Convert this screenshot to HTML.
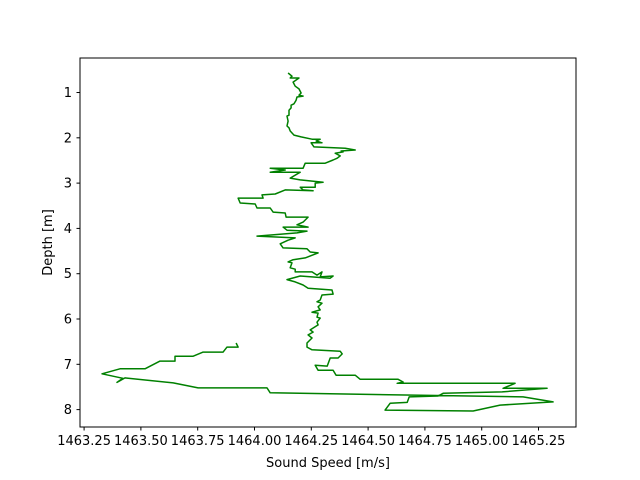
<!DOCTYPE html>
<html><head><meta charset="utf-8"><style>
html,body{margin:0;padding:0;background:#fff}
svg{display:block;font-family:"DejaVu Sans","Liberation Sans",sans-serif}
</style></head><body>
<svg id="chart" width="640" height="480" viewBox="0 0 640 480">
<rect x="0" y="0" width="640" height="480" fill="#fff"/>
<rect x="80" y="58" width="496" height="369" fill="#fff"/>
<g id="marks"></g>
<rect x="80" y="58" width="496" height="369" fill="none" stroke="#000" stroke-width="1"/>
<g id="xticks"></g><g id="yticks"></g>
<text x="328" y="467" text-anchor="middle" font-size="13">Sound Speed [m/s]</text>
<text x="0" y="0" transform="translate(52,242.5) rotate(-90)" text-anchor="middle" font-size="13">Depth [m]</text>
</svg>
<script>
const speed=[1464.148,1464.165,1464.157,1464.196,1464.170,1464.179,1464.196,1464.205,1464.196,1464.214,1464.187,1464.183,1464.174,1464.161,1464.161,1464.152,1464.152,1464.143,1464.148,1464.143,1464.152,1464.157,1464.174,1464.205,1464.253,1464.289,1464.271,1464.297,1464.249,1464.262,1464.399,1464.443,1464.381,1464.390,1464.355,1464.377,1464.364,1464.346,1464.311,1464.223,1464.214,1464.069,1464.135,1464.069,1464.201,1464.157,1464.201,1464.302,1464.267,1464.267,1464.201,1464.214,1464.258,1464.135,1464.091,1464.033,1464.038,1463.928,1463.937,1464.003,1464.011,1464.069,1464.082,1464.135,1464.139,1464.236,1464.214,1464.187,1464.236,1464.126,1464.143,1464.231,1464.187,1464.011,1464.179,1464.148,1464.113,1464.126,1464.231,1464.245,1464.280,1464.223,1464.170,1464.148,1464.165,1464.157,1464.179,1464.179,1464.253,1464.275,1464.297,1464.289,1464.346,1464.333,1464.201,1464.143,1464.179,1464.214,1464.236,1464.341,1464.346,1464.297,1464.289,1464.275,1464.297,1464.280,1464.289,1464.253,1464.280,1464.275,1464.289,1464.275,1464.280,1464.245,1464.258,1464.236,1464.253,1464.231,1464.231,1464.253,1464.377,1464.386,1464.368,1464.333,1464.320,1464.267,1464.280,1464.346,1464.359,1464.443,1464.465,1464.632,1464.654,1464.628,1465.147,1465.094,1465.288,1465.090,1464.830,1464.808,1464.681,1464.672,1464.597,1464.575,1464.962,1465.081,1465.314,1465.182,1464.069,1464.055,1463.752,1463.642,1463.430,1463.395,1463.421,1463.329,1463.408,1463.518,1463.549,1463.584,1463.650,1463.650,1463.730,1463.774,1463.862,1463.879,1463.928,1463.919];
const depth=[0.57,0.64,0.68,0.68,0.77,0.86,0.92,1.01,1.06,1.08,1.10,1.17,1.25,1.28,1.34,1.39,1.50,1.52,1.63,1.74,1.78,1.85,1.94,1.98,2.03,2.03,2.07,2.11,2.11,2.20,2.23,2.27,2.29,2.31,2.34,2.40,2.45,2.49,2.56,2.56,2.67,2.67,2.71,2.76,2.76,2.89,2.93,2.98,3.00,3.09,3.09,3.15,3.17,3.15,3.24,3.26,3.33,3.33,3.44,3.46,3.55,3.55,3.64,3.66,3.75,3.75,3.86,3.92,3.97,3.97,4.04,4.06,4.10,4.17,4.21,4.26,4.34,4.43,4.45,4.52,4.54,4.65,4.69,4.74,4.76,4.87,4.90,4.96,4.96,5.03,4.96,5.07,5.05,5.10,5.05,5.13,5.18,5.25,5.32,5.36,5.45,5.47,5.58,5.62,5.65,5.73,5.80,5.85,5.87,5.96,5.98,6.07,6.13,6.24,6.29,6.35,6.42,6.53,6.62,6.68,6.71,6.77,6.86,6.86,7.04,7.02,7.13,7.13,7.24,7.24,7.33,7.33,7.39,7.42,7.42,7.53,7.53,7.61,7.64,7.70,7.72,7.84,7.86,8.01,8.03,7.90,7.83,7.72,7.63,7.52,7.52,7.41,7.30,7.40,7.31,7.21,7.10,7.10,7.02,6.93,6.93,6.82,6.82,6.73,6.73,6.62,6.62,6.53];
const xTickValues=[1463.25,1463.5,1463.75,1464.0,1464.25,1464.5,1464.75,1465.0,1465.25];
const xTickLabels=["1463.25","1463.50","1463.75","1464.00","1464.25","1464.50","1464.75","1465.00","1465.25"];
const yTickValues=[1,2,3,4,5,6,7,8];
const yTickLabels=["1","2","3","4","5","6","7","8"];

const X0=1463.232,X1=1465.415,Y0=0.238,Y1=8.384;
function xs(v){return 80+(v-X0)/(X1-X0)*496;}
function ys(v){return 58+(v-Y0)/(Y1-Y0)*369;}
const NS="http://www.w3.org/2000/svg";
const marks=document.getElementById('marks');
const pl=document.createElementNS(NS,'polyline');
pl.setAttribute('points',speed.map((s,i)=>xs(s).toFixed(1)+','+ys(depth[i]).toFixed(1)).join(' '));
pl.setAttribute('fill','none');pl.setAttribute('stroke','#008000');pl.setAttribute('stroke-width','1.5');pl.setAttribute('stroke-linejoin','round');


marks.appendChild(pl);
const xg=document.getElementById('xticks');
xTickValues.forEach((v,i)=>{
 const x=xs(v);
 const l=document.createElementNS(NS,'line');
 l.setAttribute('x1',x);l.setAttribute('x2',x);l.setAttribute('y1',427);l.setAttribute('y2',430.5);l.setAttribute('stroke','#000');
 
 
 xg.appendChild(l);
 const t=document.createElementNS(NS,'text');
 t.setAttribute('x',x);t.setAttribute('y',445);t.setAttribute('text-anchor','middle');t.setAttribute('font-size','13');
 t.textContent=xTickLabels[i];
 
 
 xg.appendChild(t);
});
const yg=document.getElementById('yticks');
yTickValues.forEach((v,i)=>{
 const y=ys(v);
 const l=document.createElementNS(NS,'line');
 l.setAttribute('x1',76.5);l.setAttribute('x2',80);l.setAttribute('y1',y);l.setAttribute('y2',y);l.setAttribute('stroke','#000');
 
 
 yg.appendChild(l);
 const t=document.createElementNS(NS,'text');
 t.setAttribute('x',72);t.setAttribute('y',y+4.5);t.setAttribute('text-anchor','end');t.setAttribute('font-size','13');
 t.textContent=yTickLabels[i];
 
 
 yg.appendChild(t);
});
</script>
</body></html>
